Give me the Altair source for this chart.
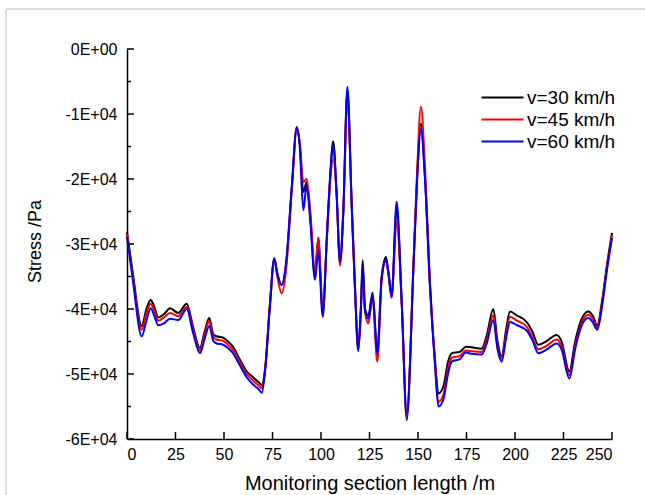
import altair as alt
import pandas as pd

# ---- data ----
x_m = [0, 3, 7.6, 10, 12.2, 14, 16.1, 19, 22.2, 26.4, 30.8, 34, 37.6, 40, 42.4, 44.5, 46.2, 49.5, 52, 54.6,
       58.2, 61.7, 65, 68, 69.5, 71.1, 73.7, 75.9, 77.5, 79.7, 82, 85, 87.5, 89, 90.9, 92.6, 94.5, 96.9, 98.6, 100.9,
       103, 104.6, 106.3, 108, 109.8, 111.5, 113.6, 115.8, 117.5, 119.2, 120.5, 121.5, 122.7, 124.4, 126.6, 129, 131.3, 133.5, 134.8, 136.4,
       139, 141.6, 144.2, 147.6, 149.5, 151.5, 153.5, 156.2, 158.8, 160.5, 163, 165.6, 167.4, 171.6, 174.7, 177.7, 182.8, 185.5, 188.8, 191,
       193.1, 195.5, 197.4, 201, 206, 209, 212, 216, 221.5, 224, 228, 231, 234, 237.8, 240, 242.4, 245, 247.5, 250]

v30 = [-28200, -34500, -42600, -40000, -38600, -39600, -41300, -40800, -39900, -40600, -39200, -42700, -46000, -43500, -41400, -43900, -44200, -44400, -45000, -45800,
       -47800, -49600, -50500, -51300, -51700, -49400, -39100, -32200, -34500, -36300, -33000, -21000, -12000, -14500, -22000, -20500, -26000, -35000, -29100, -40500,
       -29000, -20200, -14200, -22000, -32500, -25000, -6500, -23700, -36600, -45800, -40000, -32500, -40000, -41000, -37500, -46500, -35000, -32000, -34500, -38000,
       -24500, -39000, -56000, -34000, -20000, -11500, -19000, -36600, -48000, -53000, -52000, -48000, -46800, -46600, -45800, -45900, -46100, -44000, -40000, -45000,
       -47300, -43000, -40400, -41000, -42000, -43500, -45500, -45000, -44000, -45000, -49600, -45000, -41800, -40400, -41000, -42500, -38500, -33000, -28300]

v45 = [-28500, -35000, -43200, -40700, -39200, -40200, -41800, -41300, -40600, -41100, -39700, -43100, -46400, -44000, -41900, -44300, -44700, -44900, -45500, -46300,
       -48200, -50000, -51000, -51800, -52200, -49600, -39300, -32400, -35000, -37600, -34000, -21500, -12300, -14200, -20500, -20000, -25000, -34300, -29000, -40500,
       -29500, -21000, -17000, -22000, -33300, -25000, -7000, -24000, -37000, -46300, -40500, -34500, -40500, -42200, -38300, -48100, -35500, -32500, -34800, -38300,
       -26600, -39000, -56500, -33500, -19000, -8900, -17500, -36000, -48300, -54300, -53300, -49000, -47500, -47200, -46400, -46500, -46600, -44600, -41000, -45800,
       -47700, -43700, -41200, -41800, -42700, -44300, -46200, -45700, -44700, -45700, -50200, -45700, -42400, -40900, -41500, -42900, -38900, -33400, -28700]

v60 = [-28900, -35500, -44200, -41800, -39900, -41000, -42500, -42200, -41500, -41700, -40000, -43600, -46800, -44600, -42600, -44900, -45300, -45500, -46000, -46800,
       -48700, -50500, -51600, -52400, -52900, -49800, -39500, -32300, -34700, -36300, -33000, -21000, -12200, -14800, -24800, -21000, -26500, -35500, -31000, -41200,
       -29000, -20200, -14800, -22000, -32800, -25000, -5800, -23700, -36600, -46500, -40500, -33500, -40200, -41500, -37800, -47000, -35000, -32500, -34500, -38100,
       -23500, -39000, -57100, -34000, -20500, -12300, -19500, -36600, -48800, -55000, -54000, -49800, -48100, -47700, -46700, -46900, -47000, -45200, -41700, -46200,
       -48100, -44300, -42000, -42500, -43300, -44800, -46800, -46300, -45300, -46200, -50700, -46200, -42800, -41400, -42000, -43200, -39300, -33800, -29100]

series_names = ["v=30 km/h", "v=45 km/h", "v=60 km/h"]
series_colors = ["#000000", "#ff0000", "#0000ff"]
x_ticks = [0, 25, 50, 75, 100, 125, 150, 175, 200, 225, 250]
y_major = [-60000, -50000, -40000, -30000, -20000, -10000, 0]
y_minor = [-55000, -45000, -35000, -25000, -15000, -5000]

rows = []
for name, vals in zip(series_names, [v30, v45, v60]):
    for xv, yv in zip(x_m, vals):
        rows.append({"x": xv, "stress": yv, "series": name})
df = pd.DataFrame(rows)

FONT = "Liberation Sans"
W, H = 485, 390
xscale = alt.Scale(domain=[0, 250], nice=False, zero=False)
yscale = alt.Scale(domain=[-60000, 0], nice=False, zero=False)

x_axis = alt.Axis(values=x_ticks, title="Monitoring section length /m", labelPadding=7,
                  titleX=W / 2, titleY=44, titleBaseline="middle", titleAnchor="middle",
                  titleFontSize=20)
y_axis = alt.Axis(values=y_major, labelPadding=10,
                  labelExpr="datum.value == 0 ? '0E+00' : (datum.value / 10000) + 'E+04'",
                  title="Stress /Pa", titleX=-92, titleY=H / 2 - 3, titleBaseline="middle",
                  titleAngle=-90, titleAlign="center", titleFontSize=18)

lines = alt.Chart(df).mark_line(strokeWidth=2, interpolate="monotone").encode(
    x=alt.X("x:Q", scale=xscale, axis=x_axis),
    y=alt.Y("stress:Q", scale=yscale, axis=y_axis),
    color=alt.Color("series:N", scale=alt.Scale(domain=series_names, range=series_colors),
                    legend=alt.Legend(orient="none", legendX=364, legendY=37, title=None,
                                      symbolType="M-2,0H2", symbolSize=441, symbolStrokeWidth=2,
                                      labelFontSize=19, labelFont=FONT, labelOffset=13,
                                      padding=0, rowPadding=0)),
)

ymaj_df = pd.DataFrame({"stress": y_major})
ymin_df = pd.DataFrame({"stress": y_minor})
xt_df = pd.DataFrame({"x": x_ticks})

ymaj_ticks = alt.Chart(ymaj_df).mark_rule(color="black", strokeWidth=1.5).encode(
    y=alt.Y("stress:Q", scale=yscale, axis=y_axis), x=alt.value(0), x2=alt.value(7))
ymin_ticks = alt.Chart(ymin_df).mark_rule(color="black", strokeWidth=1.5).encode(
    y=alt.Y("stress:Q", scale=yscale, axis=y_axis), x=alt.value(0), x2=alt.value(4))
x_tick_rules = alt.Chart(xt_df).mark_rule(color="black", strokeWidth=1.5).encode(
    x=alt.X("x:Q", scale=xscale, axis=x_axis), y=alt.value(H), y2=alt.value(H - 7))

frame_top = alt.Chart(xt_df.head(1)).mark_rule(color="#d0d0d0", strokeWidth=1.5, clip=False).encode(
    x=alt.value(-121), x2=alt.value(520), y=alt.value(-40))
frame_left = alt.Chart(xt_df.head(1)).mark_rule(color="#d0d0d0", strokeWidth=1.5, clip=False).encode(
    x=alt.value(-121), y=alt.value(-40), y2=alt.value(450))

chart = alt.layer(lines, ymaj_ticks, ymin_ticks, x_tick_rules, frame_top, frame_left).properties(
    width=W, height=H,
    background="white",
    autosize=alt.AutoSizeParams(type="none"),
    padding={"left": 127, "top": 49, "right": 33, "bottom": 56},
).configure_view(strokeWidth=0).configure_axis(
    domainColor="black", domainWidth=1.5, ticks=False, grid=False,
    labelFont=FONT, labelFontSize=16, labelColor="black",
    titleFont=FONT, titleFontSize=17, titleColor="black", titleFontWeight="normal",
)

chart.save("out.html", embed_options={"renderer": "svg", "actions": False})
